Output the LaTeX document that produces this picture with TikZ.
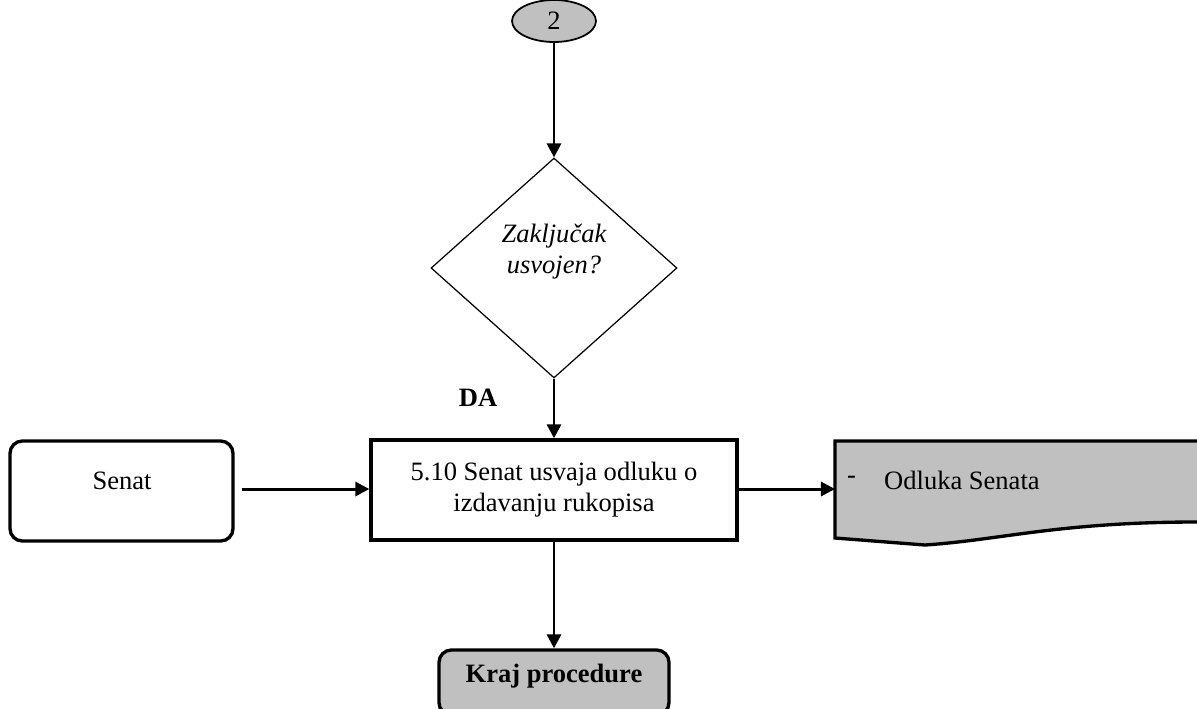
\documentclass[tikz,border=0pt]{standalone}
\usepackage{fontspec}
\setmainfont{Liberation Serif}
\usetikzlibrary{shapes.geometric,arrows.meta}
\definecolor{sivo}{RGB}{192,192,192}
\newcommand{\tekst}{\fontsize{15.1}{17.6}\selectfont}
\tikzset{
	korak/.style={draw, line width=1.9pt, fill=white, minimum width=7.32cm, minimum height=2cm, align=center},
	akter/.style={draw, line width=1.9pt, rounded corners=7pt, minimum width=4.46cm, minimum height=2cm},
	odluka/.style={draw, diamond, line width=0.7pt, minimum width=4.92cm, minimum height=4.4cm, inner sep=0pt, align=center, font=\tekst\itshape},
	veza/.style={draw, line width=1pt, fill=sivo, ellipse, minimum width=1.68cm, minimum height=0.84cm},
	kraj/.style={draw, line width=1.9pt, fill=sivo, rounded corners=7pt, minimum width=4.6cm, minimum height=1.3cm},
	tok/.style={line width=1.7pt, -{Triangle[length=8pt,width=8pt]}},
}
\begin{document}
\begin{tikzpicture}[x=0.02cm, y=-0.02cm, font=\tekst]
	\useasboundingbox (0,0) rectangle (1197,708);
	\clip (0,0) rectangle (1197,708);
	% Konektor 2
	\node[veza] (konektor) at (554,21) {2};
	% Odluka
	\node[odluka] (zakljucak) at (554,268) {Zaklju\v{c}ak\\usvojen?\\[4pt]};
	\node (da) at (478,398) {\textbf{DA}};
	% Korak 5.10
	\node[korak] (korak510) at (554,490) {5.10 Senat usvaja odluku o\\izdavanju rukopisa};
	% Senat
	\node[akter] (senat) at (121.5,491) {};
	\node (senattxt) at (122,481) {Senat};
	% Izlazni dokument
	\coordinate (dokument) at (835,489);
	\draw[line width=1.9pt, fill=sivo] (835,441) -- (1210,441) -- (1210,522)
		-- (1197,522) .. controls (1060,522) and (1000,540) .. (925,545) -- (835,538) -- cycle;
	\node[anchor=west] (crtica) at (841,480) {-};
	\node[anchor=west] (dokumenttxt) at (878,480) {Odluka Senata};
	% Kraj procedure
	\node[kraj] (kraj) at (554,682.5) {};
	\node (krajtxt) at (554,676) {\textbf{Kraj procedure}};
	% Strelice
	\draw[tok] (konektor) -- (zakljucak);
	\draw[tok] (zakljucak) -- (korak510);
	\draw[tok] (senat.east) ++(7,-2) coordinate (senatizlaz) (senatizlaz) -- (korak510.west |- senatizlaz);
	\draw[tok] (korak510.east |- dokument) -- (dokument);
	\draw[tok] (korak510) -- (kraj);
\end{tikzpicture}
\end{document}
